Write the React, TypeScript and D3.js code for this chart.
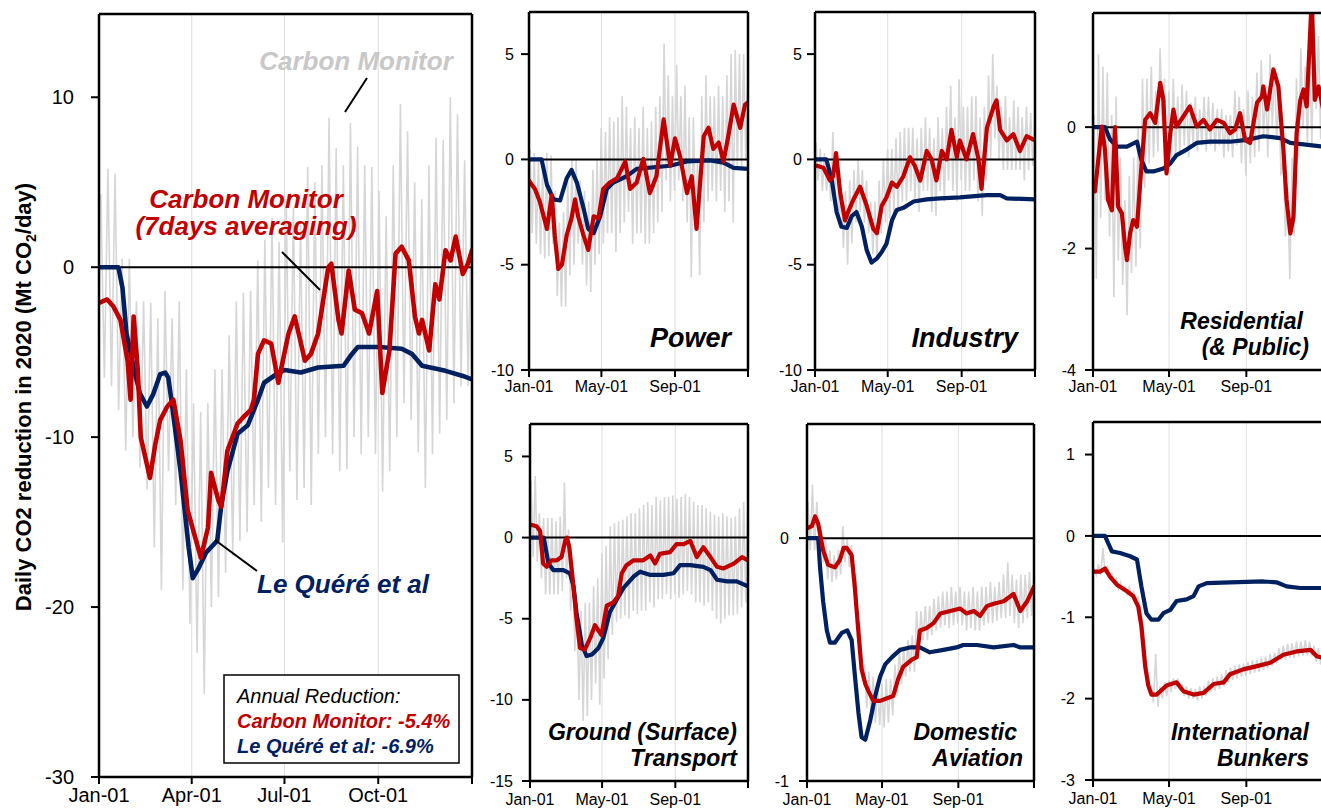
import React from 'react';
import * as d3 from 'd3';

type Pt = [number, number];

// ---------------- DATA (day of year 2020, value in Mt CO2/day) ----------------
const mainBlue: Pt[] = [[0,0],[19,0],[23,-1.2],[27,-3.9],[34,-5.9],[40,-7.4],[47,-8.2],[53,-7.5],[60,-6.3],[65,-6.2],[68,-6.5],[71,-7.8],[80,-12],[88,-16.5],[92,-18.3],[97,-17.8],[105,-16.8],[116,-16.1],[120,-14],[126,-12],[136,-9.8],[146,-9.3],[150,-8.7],[156,-7.8],[162,-6.8],[174,-6.3],[182,-6.05],[198,-6.2],[215,-5.9],[240,-5.8],[247,-5.2],[254,-4.7],[275,-4.7],[297,-4.8],[307,-5.1],[317,-5.8],[340,-6.1],[357,-6.4],[366,-6.6]];
const mainRed: Pt[] = [[0,-2.1],[8,-1.9],[14,-2.3],[21,-3.1],[28,-5.5],[31,-7.8],[34,-2.9],[38,-6.0],[41,-10],[50,-12.4],[55,-10.5],[60,-9],[67,-8.2],[73,-7.8],[80,-10.2],[87,-14.3],[93,-15.6],[100,-17.1],[107,-15.3],[110,-12.1],[117,-13.7],[120,-14.1],[126,-10.8],[136,-9.2],[142,-8.8],[149,-8.4],[152,-7.8],[156,-5.1],[162,-4.3],[169,-4.5],[176,-6.8],[179,-5.9],[186,-3.9],[192,-2.9],[199,-4.7],[202,-5.5],[208,-5.1],[215,-3.9],[225,0],[228,0.2],[235,-3.1],[238,-3.9],[245,-0.2],[251,-2.5],[258,-2.7],[265,-3.9],[273,-1.4],[278,-7.4],[285,-4.9],[291,0.8],[297,1.2],[304,0.4],[310,-2.9],[314,-3.9],[317,-3.1],[324,-4.9],[330,-1.0],[334,-1.9],[340,1.0],[345,0.4],[350,1.8],[357,-0.4],[362,0.2],[366,1.0]];
const mainGrayHi: number[] = [4.3,5.8,5.5,0.5,0.5,-2,-2,-2.1,-3,-1.4,-3,-2,-6,-8,-8.5,-8,-6,-6,-4,-2,-1.5,-1.4,0.4,1.6,2.9,1.5,3.9,3.5,2.5,5.9,5,6,8.8,7,6,8.5,7.1,6,5.9,4.5,3,6,9.6,8,5,4,6,7.6,7.5,10,9,6.3,6];
const mainGrayLo: number[] = [-6.5,-7,-8.4,-10.8,-10,-11.8,-13.1,-16.5,-19,-12,-14,-19,-21,-22.7,-25.1,-20,-19.4,-18,-17,-16.1,-15.6,-14,-15,-13,-14,-16.2,-12,-13.7,-13,-14,-11,-10,-11,-12,-11.9,-10,-11,-10,-11,-13.2,-12,-10,-8,-9,-10.9,-13,-11,-9.8,-9,-8,-7,-7,-6];

const powerBlue: Pt[] = [[0,0],[21,0],[30,-1.2],[41,-1.9],[52,-1.95],[63,-0.9],[71,-0.5],[80,-1.1],[91,-2.3],[99,-3.3],[108,-3.5],[119,-2.7],[130,-1.4],[141,-1.1],[163,-0.8],[180,-0.45],[236,-0.3],[264,-0.1],[303,-0.05],[325,-0.15],[342,-0.4],[366,-0.45]];
const powerRed: Pt[] = [[0,-1.0],[2,-1.1],[10,-1.4],[18,-2.0],[30,-3.3],[38,-1.7],[43,-3.6],[49,-5.2],[55,-5.0],[63,-3.6],[71,-2.8],[77,-1.9],[82,-2.7],[91,-3.6],[99,-4.3],[108,-2.7],[116,-2.8],[124,-1.4],[135,-1.1],[147,-0.9],[161,-0.1],[169,-1.4],[180,-1.1],[191,0.03],[202,-1.6],[213,-0.8],[225,1.9],[236,-0.3],[244,1.0],[252,0.2],[264,-1.6],[272,-0.8],[280,-3.3],[292,1.1],[300,1.5],[308,0.5],[317,0.8],[325,-0.1],[333,1.1],[342,2.6],[353,1.5],[361,2.6],[366,2.7]];
const powerGrayHi: number[] = [0.5,0.3,0,-0.5,0.3,0.2,-1.5,-3,-2.5,-1,0,0,-1,-1.5,-2,-0.5,0,1.5,1.3,2,1.8,2,3,2.5,1.5,2,1.5,2.5,1.5,1.8,2.5,3,5.5,4,3,4.5,3,3.5,2,2,0,3,4,3,3,3.5,3,4,5,5.2,5,5,3.8];
const powerGrayLo: number[] = [-3.5,-4,-4.5,-4.7,-4.6,-4,-6.5,-7,-7,-5.5,-5,-4,-5,-6,-6.3,-5,-4.5,-4,-3.5,-3.5,-4.4,-3.5,-3,-2.5,-4,-3.5,-3.5,-4,-4,-3.5,-3,-2.5,-1,-2,-1.5,-1,-2,-3,-5.6,-3,-5.5,-3,-2,-1.5,-2,-1.5,-2.5,-2,-3,-0.5,-0.5,0,1];

const industryBlue: Pt[] = [[0,0],[19,0],[28,-1.0],[36,-2.5],[44,-3.2],[53,-3.25],[61,-2.7],[69,-2.5],[78,-3.2],[86,-4.3],[94,-4.9],[103,-4.7],[111,-4.4],[119,-4.0],[128,-2.9],[136,-2.4],[147,-2.3],[164,-2.0],[186,-1.9],[208,-1.85],[241,-1.8],[286,-1.7],[308,-1.7],[319,-1.85],[366,-1.9]];
const industryRed: Pt[] = [[0,-0.3],[3,-0.3],[14,-0.4],[25,-1.0],[30,-0.8],[35,0.3],[42,-1.6],[50,-2.9],[55,-2.5],[64,-1.9],[75,-1.3],[86,-2.2],[97,-3.3],[103,-3.5],[111,-2.2],[119,-1.8],[128,-1.1],[136,-1.3],[147,-0.8],[158,0.1],[166,-0.3],[175,-1.0],[186,0.4],[194,0],[202,-1.0],[211,0.4],[219,0],[227,1.4],[236,0.1],[241,0.9],[252,0],[263,1.2],[272,0],[277,-1.4],[286,1.5],[297,2.5],[302,2.8],[308,1.4],[319,0.9],[330,1.2],[341,0.4],[352,1.1],[366,0.9]];
const industryGrayHi: number[] = [0.8,0.5,0.3,-0.3,1.3,0,-1.5,-1.5,-1,-0.5,0,-0.5,-1,-2,-2,-1,0,0.5,0.5,1,1.3,1.5,1.5,1.5,1,1.5,2,1.5,1,2,1.5,2.5,3.5,2,3.8,2.5,2.5,3,3,2,2.5,4,5,3.5,2.5,3,2,2.8,2.5,2,2.5,2.2,1.8];
const industryGrayLo: number[] = [-1,-1.5,-1.5,-2,-2,-3,-4.2,-5,-4,-3,-2.5,-3,-3.5,-4.5,-4.8,-3.5,-3,-2.8,-2.5,-2.5,-2,-2,-1.5,-2,-2.5,-1.5,-1.5,-2.5,-2.7,-1.5,-2,-1,-1.5,-2,-1,-1.5,-1.5,-1,-2,-2.7,-1,0,1,0,-0.5,-0.5,-0.5,-0.5,-0.5,-1,-0.5,-0.3,0];

const residentialBlue: Pt[] = [[0,0],[19,0],[27,-0.2],[38,-0.32],[54,-0.32],[70,-0.24],[77,-0.54],[85,-0.73],[96,-0.73],[112,-0.68],[123,-0.6],[133,-0.46],[149,-0.37],[165,-0.26],[186,-0.24],[218,-0.24],[245,-0.21],[271,-0.15],[298,-0.18],[314,-0.26],[366,-0.32]];
const residentialRed: Pt[] = [[1,-1.06],[3,-1.06],[9,-0.48],[14,0.01],[19,-0.37],[24,-1.2],[30,-1.37],[35,0],[40,-1.31],[46,-1.42],[51,-1.97],[54,-2.19],[59,-1.75],[64,-1.53],[70,-1.64],[75,-0.93],[83,0.12],[91,0.23],[99,0.07],[107,0.73],[112,0.45],[117,-0.76],[123,-0.1],[128,0.29],[133,0.01],[144,0.18],[154,0.34],[165,0.01],[176,0.12],[186,-0.04],[197,0.12],[208,0.07],[218,-0.1],[226,-0.04],[234,0.23],[242,-0.21],[250,-0.26],[261,0.4],[269,0.51],[271,0.67],[277,0.29],[287,0.95],[295,0.67],[303,-0.37],[308,-1.2],[314,-1.75],[319,-1.48],[324,-0.1],[330,0.45],[335,0.62],[340,0.34],[348,2.1],[353,0.45],[359,0.67],[366,0.3]];
const residentialGrayHi: number[] = [0.2,1.2,1,0.9,0.2,0.5,-0.5,-1.2,-0.8,-0.5,0,0.8,0.8,1,0.6,1.3,0.8,0.6,0.8,0.5,0.7,0.6,0.4,0.5,0.3,0.5,0.5,0.4,0.3,0.3,0.2,0.2,0.6,0.5,0.3,0.6,0.5,0.9,1.1,0.7,1.2,1,0.5,-0.5,-1,-0.5,0.8,1.3,1,1.2,1.9,1.5,1];
const residentialGrayLo: number[] = [-2.5,-1.5,-1.2,-1.8,-2.8,-2.2,-2.6,-3.1,-2.4,-2.3,-2,-1,-0.6,-0.5,-0.4,0,-0.8,-0.6,-0.5,-0.4,-0.3,-0.5,-0.3,-0.4,-0.3,-0.4,-0.3,-0.4,-0.3,-0.5,-0.4,-0.5,-0.3,-0.6,-0.8,-0.6,-0.5,-0.4,-0.2,-0.5,0,-0.2,-0.8,-1.8,-2.5,-1.8,-0.5,0,-0.3,-0.3,0.3,-0.2,-0.5];

const groundBlue: Pt[] = [[0,0],[23,0],[31,-1.6],[39,-2.0],[56,-2.0],[67,-2.2],[73,-3.0],[78,-4.6],[87,-6.6],[95,-7.3],[104,-7.2],[115,-6.8],[123,-6.2],[134,-4.6],[146,-3.8],[157,-3.1],[174,-2.4],[185,-2.1],[202,-2.3],[224,-2.3],[241,-2.2],[252,-1.7],[269,-1.7],[291,-1.8],[303,-2.0],[314,-2.6],[331,-2.7],[347,-2.7],[366,-3.0]];
const groundRed: Pt[] = [[0,0.8],[11,0.7],[17,0.4],[22,-1.6],[28,-1.8],[36,-1.4],[45,-1.4],[53,-1.2],[59,-0.2],[62,0],[66,-0.6],[73,-3.0],[78,-5.0],[84,-6.8],[92,-6.9],[101,-6.2],[109,-5.4],[120,-6.0],[129,-4.2],[140,-4.0],[148,-3.6],[154,-2.2],[162,-1.7],[174,-1.4],[190,-1.4],[202,-1.1],[210,-1.6],[218,-1.0],[235,-0.9],[246,-0.4],[258,-0.4],[269,-0.2],[280,-1.2],[291,-0.6],[303,-1.2],[314,-1.8],[325,-1.9],[342,-1.6],[356,-1.2],[366,-1.4]];
const groundGrayHi: number[] = [3.5,3.8,1.5,1.2,1.2,1.2,1.0,1.3,3.4,0.5,-1.5,-4,-4.5,-4,-4,-3,-2.5,-1,-0.5,0.7,0.9,1,1.1,1.3,1.5,1.5,1.8,2,2.2,2,2.5,2.3,2.5,2.5,2.6,2.4,2.5,2.7,2.5,2.2,2,2,1.8,1.6,1.4,1.3,1.5,1.3,1.2,1.3,1.8,2.2,2.3];
const groundGrayLo: number[] = [-1.2,-1.5,-2.5,-3.5,-3.5,-3.5,-3.5,-3.3,-2.5,-4.5,-7,-10,-11.3,-11,-10,-9,-10.3,-8.7,-7.5,-6,-5.2,-5,-4.8,-5,-4.5,-4.7,-4.5,-4.5,-4,-4.3,-3.8,-3.8,-3.5,-3.8,-3.5,-3.7,-3.5,-3.3,-3.5,-4,-4,-4.2,-4,-4.5,-5,-5.3,-5,-4.8,-4.8,-4.7,-4.3,-4,-3.8];

const aviationBlue: Pt[] = [[0,0],[18,0],[21,-0.12],[26,-0.26],[32,-0.38],[37,-0.43],[45,-0.43],[56,-0.39],[65,-0.38],[72,-0.42],[77,-0.56],[83,-0.72],[88,-0.82],[94,-0.83],[102,-0.75],[110,-0.65],[118,-0.57],[126,-0.52],[137,-0.49],[150,-0.46],[166,-0.45],[182,-0.45],[198,-0.47],[220,-0.46],[241,-0.45],[252,-0.44],[274,-0.44],[301,-0.45],[333,-0.44],[344,-0.45],[366,-0.45]];
const aviationRed: Pt[] = [[0,0.04],[8,0.05],[13,0.09],[18,0.06],[26,-0.05],[34,-0.11],[45,-0.12],[53,-0.09],[59,-0.04],[64,-0.04],[72,-0.07],[77,-0.2],[83,-0.39],[88,-0.54],[94,-0.6],[99,-0.63],[107,-0.67],[118,-0.67],[128,-0.66],[139,-0.65],[147,-0.58],[155,-0.53],[169,-0.5],[177,-0.49],[182,-0.38],[193,-0.37],[204,-0.35],[215,-0.31],[231,-0.3],[247,-0.29],[257,-0.31],[269,-0.3],[279,-0.32],[290,-0.28],[301,-0.27],[317,-0.26],[333,-0.23],[344,-0.3],[355,-0.26],[366,-0.2]];
const aviationGrayHi: number[] = [0.15,0.22,0.15,0.05,0,-0.05,-0.07,-0.05,0.05,0,-0.03,-0.15,-0.35,-0.52,-0.55,-0.57,-0.6,-0.6,-0.58,-0.58,-0.52,-0.45,-0.45,-0.42,-0.4,-0.3,-0.3,-0.28,-0.28,-0.25,-0.24,-0.22,-0.22,-0.2,-0.22,-0.2,-0.22,-0.22,-0.2,-0.22,-0.2,-0.2,-0.18,-0.2,-0.18,-0.15,-0.1,-0.15,-0.17,-0.15,-0.15,-0.14,-0.15];
const aviationGrayLo: number[] = [-0.05,-0.05,0,-0.1,-0.17,-0.18,-0.17,-0.15,-0.1,-0.12,-0.15,-0.35,-0.55,-0.7,-0.73,-0.76,-0.77,-0.78,-0.76,-0.73,-0.65,-0.6,-0.57,-0.55,-0.55,-0.45,-0.42,-0.42,-0.4,-0.38,-0.37,-0.36,-0.37,-0.36,-0.35,-0.36,-0.38,-0.37,-0.38,-0.38,-0.36,-0.35,-0.35,-0.34,-0.33,-0.33,-0.32,-0.35,-0.37,-0.35,-0.33,-0.32,-0.3];

const bunkersBlue: Pt[] = [[0,0],[19,0],[30,-0.19],[43,-0.21],[59,-0.25],[70,-0.29],[77,-0.62],[85,-0.95],[93,-1.03],[104,-1.03],[112,-0.95],[123,-0.91],[133,-0.8],[149,-0.78],[160,-0.74],[168,-0.62],[181,-0.58],[218,-0.57],[271,-0.56],[292,-0.57],[308,-0.62],[330,-0.64],[366,-0.64]];
const bunkersRed: Pt[] = [[0,-0.44],[2,-0.44],[11,-0.44],[19,-0.4],[27,-0.5],[38,-0.6],[54,-0.68],[64,-0.74],[72,-0.87],[77,-1.11],[83,-1.6],[88,-1.84],[93,-1.95],[101,-1.95],[107,-1.91],[117,-1.84],[133,-1.8],[144,-1.91],[160,-1.95],[176,-1.93],[192,-1.82],[208,-1.8],[218,-1.7],[239,-1.64],[261,-1.6],[282,-1.56],[303,-1.46],[324,-1.42],[346,-1.4],[356,-1.48],[366,-1.5]];
const bunkersGrayHi: number[] = [-0.4,-0.35,-0.15,-0.38,-0.45,-0.52,-0.57,-0.62,-0.63,-0.68,-0.75,-1.05,-1.6,-1.85,-1.45,-1.85,-1.8,-1.78,-1.75,-1.75,-1.82,-1.85,-1.87,-1.88,-1.85,-1.85,-1.78,-1.75,-1.73,-1.7,-1.65,-1.62,-1.6,-1.58,-1.57,-1.55,-1.53,-1.52,-1.5,-1.48,-1.45,-1.43,-1.38,-1.35,-1.33,-1.32,-1.3,-1.3,-1.28,-1.3,-1.35,-1.38,-1.4];
const bunkersGrayLo: number[] = [-0.48,-0.48,-0.46,-0.48,-0.55,-0.65,-0.67,-0.72,-0.73,-0.78,-0.9,-1.3,-1.8,-2.05,-2.1,-2.0,-1.97,-1.92,-1.88,-1.9,-1.97,-2.0,-2.0,-2.02,-2.0,-1.97,-1.92,-1.9,-1.88,-1.85,-1.8,-1.77,-1.75,-1.73,-1.72,-1.7,-1.68,-1.67,-1.65,-1.63,-1.6,-1.57,-1.53,-1.52,-1.5,-1.5,-1.48,-1.47,-1.47,-1.48,-1.55,-1.58,-1.6];

// tick positions (day of year) and labels
const mainTickDays = [0, 91, 182, 274, 366];
const mainTickLabels = ['Jan-01', 'Apr-01', 'Jul-01', 'Oct-01'];
const smallTickDays = [0, 121, 244, 366];
const smallTickLabels = ['Jan-01', 'May-01', 'Sep-01'];

// ---------------- STYLE ----------------
const FONT = '"Liberation Sans", Arial, Helvetica, sans-serif';
const RED = '#c00000';
const BLUE = '#002060';
const GRAY = '#d6d6d6';

interface PanelCfg {
  id: string; left: number; right: number; top: number; bottom: number;
  yDomain: [number, number]; yTicks: number[];
  xTicks: number[]; xLabels: string[];
  red: Pt[]; blue: Pt[]; hi: number[]; lo: number[];
  font: number; lineW: number; labelGap: number; tickLen: number; xLabelDy: number;
  borderRight: boolean;
}

function Panel({ c }: { c: PanelCfg }) {
  const x = d3.scaleLinear().domain([0, 366]).range([c.left, c.right]);
  const y = d3.scaleLinear().domain(c.yDomain).range([c.bottom, c.top]);
  const line = d3.line<Pt>().x(d => x(d[0])).y(d => y(d[1]));
  const grayPts: Pt[] = [];
  c.hi.forEach((h, i) => {
    grayPts.push([Math.min(366, 7 * i + 1.75), h]);
    grayPts.push([Math.min(366, 7 * i + 5.25), c.lo[i]]);
  });
  const grid = c.xTicks.slice(1, c.xTicks.length - 1);
  const clip = `clip-${c.id}`;
  return (
    <g>
      <defs>
        <clipPath id={clip}>
          <rect x={c.left} y={c.top} width={c.right - c.left} height={c.bottom - c.top} />
        </clipPath>
      </defs>
      {grid.map(g => (
        <line key={g} x1={x(g)} x2={x(g)} y1={c.top} y2={c.bottom} stroke="#dedede" strokeWidth={1} />
      ))}
      <g clipPath={`url(#${clip})`}>
        <path d={line(grayPts) || ''} fill="none" stroke={GRAY} strokeWidth={1.6} />
        <line x1={c.left} x2={c.right} y1={y(0)} y2={y(0)} stroke="#000" strokeWidth={2} />
        <path d={line(c.blue) || ''} fill="none" stroke={BLUE} strokeWidth={c.lineW} strokeLinejoin="round" strokeLinecap="round" />
        <path d={line(c.red) || ''} fill="none" stroke={RED} strokeWidth={c.lineW} strokeLinejoin="round" strokeLinecap="round" />
      </g>
      {/* frame */}
      <line x1={c.left} x2={c.left} y1={c.top} y2={c.bottom} stroke="#000" strokeWidth={2.5} />
      <line x1={c.left} x2={c.right} y1={c.top} y2={c.top} stroke="#000" strokeWidth={2.5} />
      <line x1={c.left} x2={c.right} y1={c.bottom} y2={c.bottom} stroke="#000" strokeWidth={2.5} />
      {c.borderRight && <line x1={c.right} x2={c.right} y1={c.top} y2={c.bottom} stroke="#000" strokeWidth={2.5} />}
      {/* y ticks */}
      {c.yTicks.map(t => (
        <g key={t}>
          <line x1={c.left - c.tickLen} x2={c.left} y1={y(t)} y2={y(t)} stroke="#000" strokeWidth={2} />
          <text x={c.left - c.labelGap} y={y(t)} dy="0.35em" textAnchor="end" fontFamily={FONT} fontSize={c.font} fill="#000">{t}</text>
        </g>
      ))}
      {/* x ticks */}
      {c.xTicks.map(t => (
        <line key={t} x1={x(t)} x2={x(t)} y1={c.bottom} y2={c.bottom + c.tickLen - 1} stroke="#000" strokeWidth={2} />
      ))}
      {c.xLabels.map((l, i) => (
        <text key={l} x={x(c.xTicks[i])} y={c.bottom + c.xLabelDy} textAnchor="middle" fontFamily={FONT} fontSize={c.font} fill="#000">{l}</text>
      ))}
    </g>
  );
}

const panels: PanelCfg[] = [
  { id: 'main', left: 99, right: 472, top: 14, bottom: 777, yDomain: [-30, 14.9], yTicks: [-30, -20, -10, 0, 10],
    xTicks: mainTickDays, xLabels: mainTickLabels, red: mainRed, blue: mainBlue, hi: mainGrayHi, lo: mainGrayLo,
    font: 20, lineW: 4.6, labelGap: 25, tickLen: 8, xLabelDy: 25, borderRight: true },
  { id: 'power', left: 529, right: 748, top: 12, bottom: 370, yDomain: [-10, 7], yTicks: [-10, -5, 0, 5],
    xTicks: smallTickDays, xLabels: smallTickLabels, red: powerRed, blue: powerBlue, hi: powerGrayHi, lo: powerGrayLo,
    font: 16, lineW: 4.2, labelGap: 15, tickLen: 8, xLabelDy: 22, borderRight: true },
  { id: 'industry', left: 815, right: 1035, top: 12, bottom: 370, yDomain: [-10, 7], yTicks: [-10, -5, 0, 5],
    xTicks: smallTickDays, xLabels: smallTickLabels, red: industryRed, blue: industryBlue, hi: industryGrayHi, lo: industryGrayLo,
    font: 16, lineW: 4.2, labelGap: 13, tickLen: 8, xLabelDy: 22, borderRight: true },
  { id: 'residential', left: 1093, right: 1323, top: 13, bottom: 370, yDomain: [-4, 1.88], yTicks: [-4, -2, 0],
    xTicks: smallTickDays, xLabels: smallTickLabels, red: residentialRed, blue: residentialBlue, hi: residentialGrayHi, lo: residentialGrayLo,
    font: 16, lineW: 4.2, labelGap: 17, tickLen: 8, xLabelDy: 22, borderRight: false },
  { id: 'ground', left: 530, right: 748, top: 424, bottom: 781, yDomain: [-15, 7], yTicks: [-15, -10, -5, 0, 5],
    xTicks: smallTickDays, xLabels: smallTickLabels, red: groundRed, blue: groundBlue, hi: groundGrayHi, lo: groundGrayLo,
    font: 16, lineW: 4.2, labelGap: 17, tickLen: 8, xLabelDy: 24, borderRight: true },
  { id: 'aviation', left: 807, right: 1034, top: 424, bottom: 781, yDomain: [-1, 0.47], yTicks: [-1, 0],
    xTicks: smallTickDays, xLabels: smallTickLabels, red: aviationRed, blue: aviationBlue, hi: aviationGrayHi, lo: aviationGrayLo,
    font: 16, lineW: 4.2, labelGap: 18, tickLen: 8, xLabelDy: 24, borderRight: true },
  { id: 'bunkers', left: 1093, right: 1323, top: 422, bottom: 780, yDomain: [-3, 1.4], yTicks: [-3, -2, -1, 0, 1],
    xTicks: smallTickDays, xLabels: smallTickLabels, red: bunkersRed, blue: bunkersBlue, hi: bunkersGrayHi, lo: bunkersGrayLo,
    font: 16, lineW: 4.2, labelGap: 18, tickLen: 8, xLabelDy: 24, borderRight: false },
];

const bi = { fontFamily: FONT, fontWeight: 700 as const, fontStyle: 'italic' as const };

export default function App() {
  return (
    <svg width={1321} height={809} viewBox="0 0 1321 809"
      style={{ position: 'absolute', left: 0, top: 0, background: '#fff' }}>
      <rect x={0} y={0} width={1321} height={809} fill="#fff" />
      {panels.map(p => <Panel key={p.id} c={p} />)}

      {/* y axis title */}
      <text transform="translate(31,397) rotate(-90)" textAnchor="middle" fontFamily={FONT} fontWeight={700} fontSize={22} fill="#000">
        Daily CO2 reduction in 2020 (Mt CO<tspan fontSize={14} dy={5}>2</tspan><tspan dy={-5}>/day)</tspan>
      </text>

      {/* main panel annotations */}
      <text x={356} y={70} textAnchor="middle" {...bi} fontSize={26} fill="#c8c8c8">Carbon Monitor</text>
      <line x1={367} y1={78} x2={345} y2={112} stroke="#000" strokeWidth={2} />
      <text x={246} y={208} textAnchor="middle" {...bi} fontSize={26} fill={RED}>Carbon Monitor</text>
      <text x={246} y={235} textAnchor="middle" {...bi} fontSize={26} fill={RED}>(7days averaging)</text>
      <line x1={282} y1={252} x2={320} y2={290} stroke="#000" strokeWidth={2} />
      <text x={343} y={593} textAnchor="middle" {...bi} fontSize={26} fill={BLUE}>Le Quéré et al</text>
      <line x1={257} y1={571} x2={215} y2={540} stroke="#000" strokeWidth={2} />

      {/* legend box */}
      <rect x={224} y={675} width={235} height={88} fill="#fff" stroke="#000" strokeWidth={1.5} />
      <text x={237} y={703} fontFamily={FONT} fontStyle="italic" fontSize={20} fill="#000">Annual Reduction:</text>
      <text x={237} y={728} {...bi} fontSize={20} fill={RED}>Carbon Monitor: -5.4%</text>
      <text x={237} y={753} {...bi} fontSize={20} fill={BLUE}>Le Quéré et al: -6.9%</text>

      {/* sector labels */}
      <text x={731} y={347} textAnchor="end" {...bi} fontSize={27} fill="#000">Power</text>
      <text x={1018} y={347} textAnchor="end" {...bi} fontSize={27} fill="#000">Industry</text>
      <text x={1303} y={329} textAnchor="end" {...bi} fontSize={23} fill="#000">Residential</text>
      <text x={1309} y={355} textAnchor="end" {...bi} fontSize={23} fill="#000">(&amp; Public)</text>
      <text x={737} y={740} textAnchor="end" {...bi} fontSize={23} fill="#000">Ground (Surface)</text>
      <text x={737} y={766} textAnchor="end" {...bi} fontSize={23} fill="#000">Transport</text>
      <text x={1017} y={740} textAnchor="end" {...bi} fontSize={23} fill="#000">Domestic</text>
      <text x={1023} y={766} textAnchor="end" {...bi} fontSize={23} fill="#000">Aviation</text>
      <text x={1309} y={740} textAnchor="end" {...bi} fontSize={23} fill="#000">International</text>
      <text x={1309} y={766} textAnchor="end" {...bi} fontSize={23} fill="#000">Bunkers</text>
    </svg>
  );
}
